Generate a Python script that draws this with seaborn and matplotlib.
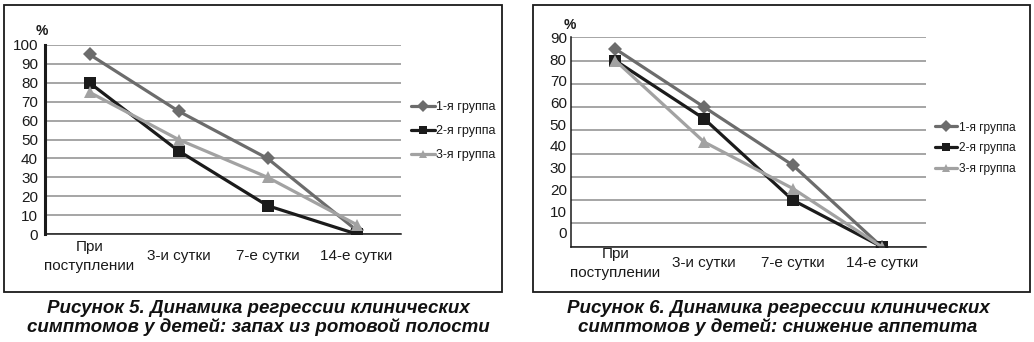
import matplotlib
matplotlib.use("Agg")
import matplotlib.pyplot as plt
from matplotlib.patches import Rectangle
from matplotlib.transforms import ScaledTranslation
import seaborn as sns
import pandas as pd

# Timepoints and study groups
categories = ["При\nпоступлении", "3-и сутки", "7-е сутки", "14-е сутки"]
groups = ["1-я группа", "2-я группа", "3-я группа"]

# Figure 5: bad breath (% of children)
breath_g1 = [95, 65, 40, 2]
breath_g2 = [80, 44, 15, 0]
breath_g3 = [75, 50, 30, 5]

# Figure 6: reduced appetite (% of children)
appetite_g1 = [85, 60, 35, 0]
appetite_g2 = [80, 55, 20, 0]
appetite_g3 = [80, 45, 25, 0]

breath_ticks = list(range(0, 101, 10))
appetite_ticks = list(range(0, 91, 10))

caption_left = "Рисунок 5. Динамика регрессии клинических\nсимптомов у детей: запах из ротовой полости"
caption_right = "Рисунок 6. Динамика регрессии клинических\nсимптомов у детей: снижение аппетита"

colors = ["#6c6c6c", "#1b1b1b", "#a2a2a2"]
markers = ["D", "s", "^"]
marker_sizes = [7, 9, 8]

sns.set_style("white")
plt.rcParams["font.family"] = ["Liberation Sans", "DejaVu Sans"]

W, H = 1034, 342
fig = plt.figure(figsize=(W / 100, H / 100), dpi=100)


def frac_box(x0, y0, x1, y1):
    """Pixel box (top-left origin) -> figure fraction [left, bottom, width, height]."""
    return [x0 / W, 1 - y1 / H, (x1 - x0) / W, (y1 - y0) / H]


def make_frame(df, ax, yticks, ymax, legend_anchor, legend_fs, spacing,
               thick_axis, label_shift, xpad):
    sns.lineplot(data=df, x="cat", y="val", hue="group", style="group",
                 palette=colors, markers=markers, dashes=False, linewidth=2.3,
                 markeredgewidth=0, sort=False, ax=ax)
    for line, ms in zip(ax.lines, marker_sizes):
        line.set_markersize(ms)
    ax.set_xlim(-0.5, 3.5)
    ax.set_ylim(0, ymax)
    ax.set_yticks(yticks)
    ax.set_yticklabels([str(t) for t in yticks], fontsize=11)
    ax.set_xticks(range(len(categories)))
    ax.set_xticklabels(categories, fontsize=11, linespacing=1.45)
    ax.set_xticks([-0.5, 0.5, 1.5, 2.5, 3.5], minor=True)
    ax.tick_params(axis="x", which="major", length=0, pad=xpad, colors="#1a1a1a")
    ax.tick_params(axis="x", which="minor", length=5, width=1.1, direction="out", color="#1a1a1a")
    ax.set_xlabel("")
    ax.set_ylabel("")
    ax.grid(axis="y", color="#a5a5a5", linewidth=1.4)
    ax.set_axisbelow(True)
    for side in ("top", "right"):
        ax.spines[side].set_visible(False)
    ax.spines["bottom"].set_color("#1a1a1a")
    ax.spines["bottom"].set_linewidth(1.1)
    ax.spines["left"].set_color("#1a1a1a")
    if thick_axis:
        ax.spines["left"].set_linewidth(2.2)
        ax.tick_params(axis="y", length=4, width=1.1, direction="out", pad=1, color="#1a1a1a")
    else:
        ax.spines["left"].set_linewidth(1.1)
        ax.tick_params(axis="y", length=0, pad=3)
    for lab in ax.get_yticklabels():
        lab.set_color("#1a1a1a")
        if label_shift:
            v = float(lab.get_text())
            dy = (ymax - v) * label_shift / 72.0
            lab.set_transform(lab.get_transform() + ScaledTranslation(0, dy, fig.dpi_scale_trans))
    for lab in ax.get_xticklabels():
        lab.set_color("#1a1a1a")
        lab.set_verticalalignment("center")
    handles, labels = ax.get_legend_handles_labels()
    ax.get_legend().remove()
    leg = fig.legend(handles, labels, loc="center left", bbox_to_anchor=legend_anchor,
                     frameon=False, fontsize=legend_fs, handlelength=1.9,
                     handletextpad=0.1, labelspacing=spacing, borderaxespad=0)
    for t in leg.get_texts():
        t.set_color("#1a1a1a")


def long_frame(values):
    rows = []
    for g, series in zip(groups, values):
        for c, v in zip(categories, series):
            rows.append({"cat": c, "val": v, "group": g})
    return pd.DataFrame(rows)


# Panel frames
for x0, x1 in ((4, 502), (533, 1030)):
    l, b, w, h = frac_box(x0, 5, x1, 292)
    fig.patches.append(Rectangle((l, b), w, h, transform=fig.transFigure,
                                 fill=False, edgecolor="#1a1a1a", linewidth=1.3))

# Left chart
ax1 = fig.add_axes(frac_box(45, 45, 401, 234))
make_frame(long_frame([breath_g1, breath_g2, breath_g3]), ax1, breath_ticks, 100,
           (406 / W, 1 - 131 / H), 9.0, 0.95, True, 0, 16)
fig.text(42 / W, 1 - 31 / H, "%", fontsize=10, fontweight="bold", color="#1a1a1a",
         ha="center", va="center")

# Right chart
ax2 = fig.add_axes(frac_box(571, 37.3, 926, 246.7))
make_frame(long_frame([appetite_g1, appetite_g2, appetite_g3]), ax2, appetite_ticks, 90,
           (930 / W, 1 - 148.5 / H), 8.6, 0.75, False, 0.11, 12)
fig.text(570 / W, 1 - 25 / H, "%", fontsize=10, fontweight="bold", color="#1a1a1a",
         ha="center", va="center")

# Captions
for cx, text in ((258, caption_left), (778, caption_right)):
    fig.text(cx / W, 1 - 318 / H, text, ha="center", va="center", fontsize=13.5,
             fontweight="bold", fontstyle="italic", linespacing=1.08, color="#111111",
             family=["Liberation Sans", "DejaVu Sans"])

fig.savefig("out.png", dpi=100)
